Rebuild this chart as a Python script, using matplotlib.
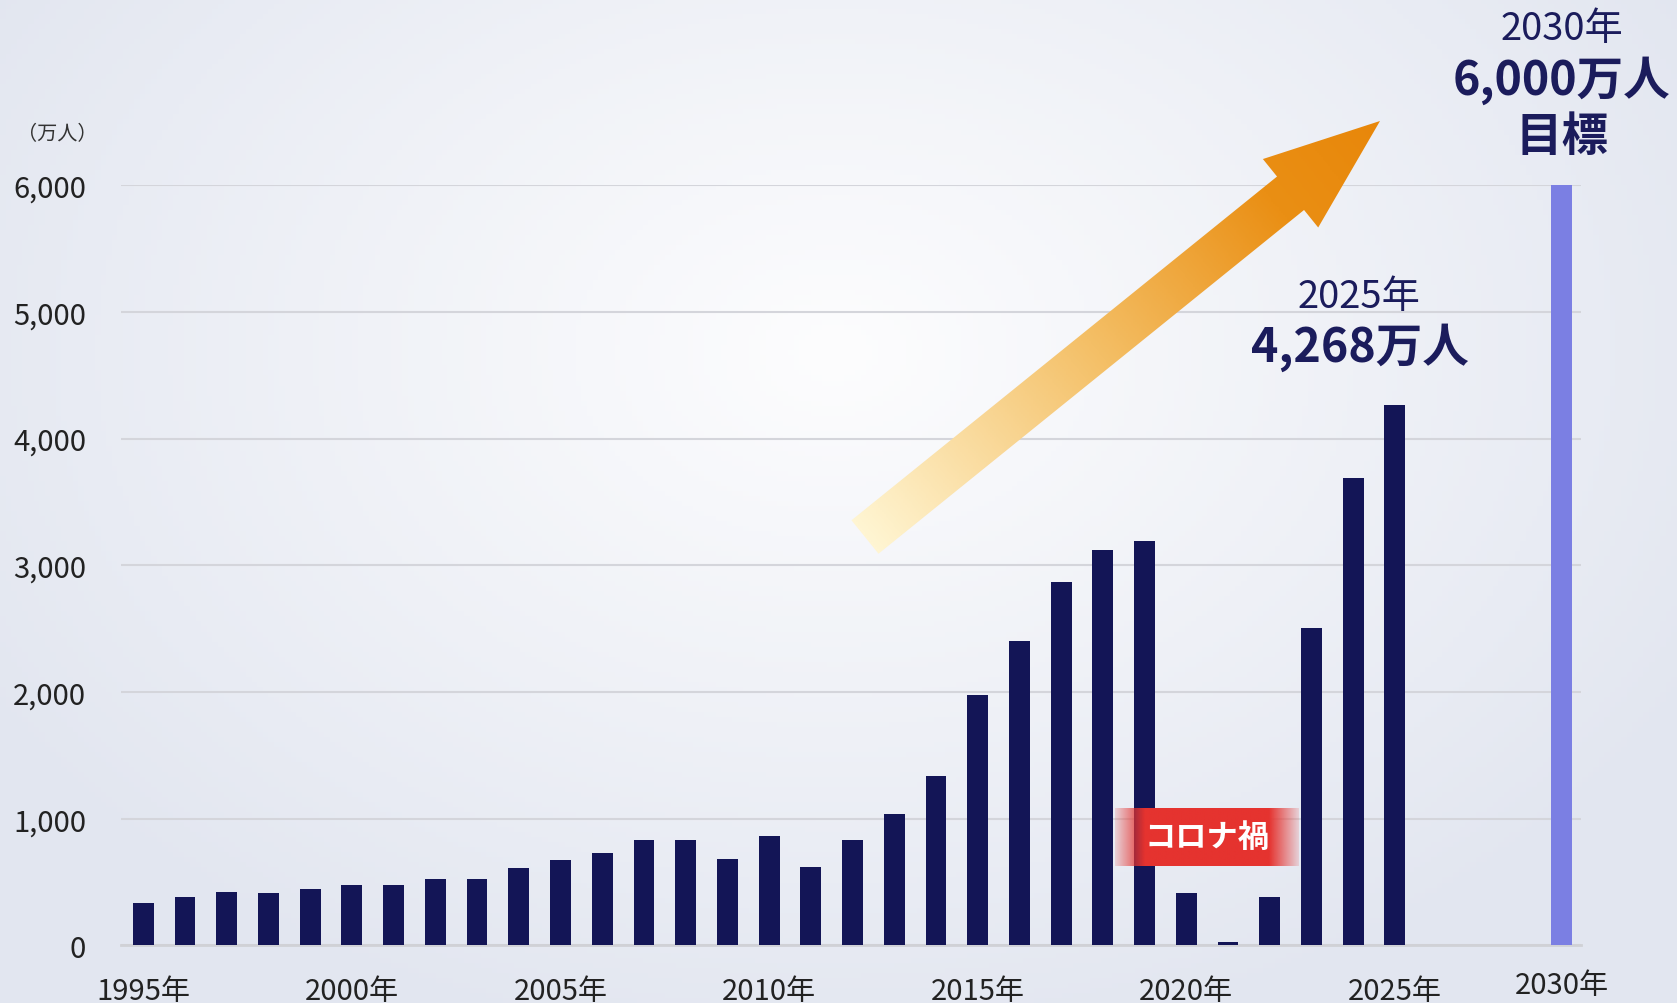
import numpy as np
import matplotlib.pyplot as plt
from matplotlib.colors import LinearSegmentedColormap, to_rgb
from matplotlib.patches import Polygon

plt.rcParams['font.family'] = ['Noto Sans CJK JP', 'DejaVu Sans']

# 訪日外客数（万人）
years = list(range(1995, 2026))
visitors = [335, 384, 422, 411, 444, 476, 477, 524, 521, 614,
            673, 733, 835, 835, 679, 861, 622, 836, 1036, 1341,
            1974, 2404, 2869, 3119, 3188, 412, 25, 383, 2507, 3687,
            4268]
target_year = 2030
target_value = 6000
tick_years = [1995, 2000, 2005, 2010, 2015, 2020, 2025, 2030]
yticks = [0, 1000, 2000, 3000, 4000, 5000, 6000]

navy = '#131556'
text_navy = '#1b1c5c'
target_color = '#7b7fe3'

W, H = 1677, 1004
fig = plt.figure(figsize=(W / 100, H / 100), dpi=100)

# background radial gradient
bg = fig.add_axes([0, 0, 1, 1], zorder=-10)
bg.set_axis_off()
gx, gy = np.meshgrid(np.linspace(0, W, 300), np.linspace(0, H, 200))
r = np.sqrt(((gx - 834) / 1000) ** 2 + ((gy - 353) / 720) ** 2)
r = np.clip(r, 0, 1)
c0 = np.array(to_rgb('#fdfdfe'))
c1 = np.array(to_rgb('#e2e6f0'))
img = c0[None, None, :] * (1 - r[..., None]) + c1[None, None, :] * r[..., None]
bg.imshow(img, extent=(0, W, H, 0), aspect='auto', origin='upper')
bg.set_xlim(0, W)
bg.set_ylim(H, 0)

# main axes
ax = fig.add_axes([0.072, 0.0573, 0.871, 0.7574])
ax.set_facecolor('none')

x_pos = list(range(len(years)))
gap_pos = x_pos[-1] + 4  # 2030 placed after a small gap
ax.bar(x_pos, visitors, width=0.5, color=navy, zorder=3)
ax.bar([gap_pos], [target_value], width=0.5, color=target_color, zorder=3)

ax.set_xlim(-0.54, 34.47)
ax.set_ylim(0, 6000)
ax.set_yticks(yticks)
ax.set_yticklabels([f'{v:,}' for v in yticks], fontsize=21, color='#222222')
tick_pos = [years.index(y) if y in years else gap_pos for y in tick_years]
ax.set_xticks(tick_pos)
ax.set_xticklabels([f'{y}年' for y in tick_years], fontsize=21, color='#222222')
ax.tick_params(axis='y', length=0, pad=25)
ax.tick_params(axis='x', length=0, pad=22)
for s in ['top', 'right', 'left']:
    ax.spines[s].set_visible(False)
ax.spines['bottom'].set_color('#d0d1d6')
ax.spines['bottom'].set_linewidth(2)
ax.yaxis.grid(True, color='#d4d5db', linewidth=1.5, zorder=0)
ax.set_axisbelow(True)
ax.get_xticklabels()[-1].set_y(0.008)

ax.text(-2.05, 6410, '（万人）', fontsize=14.5, color='#333333', ha='center', va='center',
        clip_on=False)

# annotations
ax.text(29.15, 5122, '2025年', fontsize=27.5, color=text_navy, ha='center', va='center')
ax.text(29.15, 4726, '4,268万人', fontsize=33.5, fontweight='bold', color=text_navy,
        ha='center', va='center')
ax.text(gap_pos, 7232, '2030年', fontsize=27.5, color=text_navy, ha='center', va='center',
        clip_on=False)
ax.text(gap_pos, 6835, '6,000万人', fontsize=33.5, fontweight='bold', color=text_navy,
        ha='center', va='center', clip_on=False)
ax.text(gap_pos, 6388, '目標', fontsize=33.5, fontweight='bold', color=text_navy,
        ha='center', va='center', clip_on=False)

# コロナ禍 label with faded edges
lab = np.zeros((10, 200, 4))
lab[..., :3] = to_rgb('#e5332f')
t = np.linspace(0, 1, 200)
alpha = np.clip(np.minimum(t, 1 - t) / 0.16, 0, 1)
alpha = 0.15 + 0.85 * alpha
lab[..., 3] = alpha[None, :]
ax.imshow(lab, extent=(23.3, 27.7, 630, 1085), aspect='auto', zorder=5)
ax.text(25.5, 860, 'コロナ禍', fontsize=22.5, fontweight='bold', color='white',
        ha='center', va='center', zorder=6)
ax.set_xlim(-0.54, 34.47)
ax.set_ylim(0, 6000)

# gradient arrow overlay (pixel coordinates)
ov = fig.add_axes([0, 0, 1, 1], zorder=5)
ov.set_axis_off()
ov.set_facecolor('none')
ov.set_xlim(0, W)
ov.set_ylim(H, 0)
tail = np.array([865.0, 538.0])
tip = np.array([1380.0, 122.0])
d = tip - tail
L = np.hypot(*d)
u = d / L
n = np.array([u[1], -u[0]])
hw, hh, hl = 21.5, 44.0, 115.0
base = tip - u * hl
pts = [tail + n * hw, base + n * hw, base + n * hh, tip,
       base - n * hh, base - n * hw, tail - n * hw]
poly = Polygon(pts, closed=True, facecolor='none', edgecolor='none')
ov.add_patch(poly)
ax_x, ax_y = np.meshgrid(np.linspace(820, 1400, 300), np.linspace(100, 580, 250))
proj = ((ax_x - tail[0]) * u[0] + (ax_y - tail[1]) * u[1]) / L
proj = np.clip(proj, 0, 1)
cmap = LinearSegmentedColormap.from_list(
    'arr', [(0, '#fff5d2'), (0.45, '#f4bf66'), (0.8, '#ea8f14'), (1, '#e8870a')])
im = ov.imshow(proj, extent=(820, 1400, 100, 580), origin='lower', cmap=cmap,
               vmin=0, vmax=1, aspect='auto')
im.set_clip_path(poly)
ov.set_xlim(0, W)
ov.set_ylim(H, 0)

fig.savefig('out.png', dpi=100)
